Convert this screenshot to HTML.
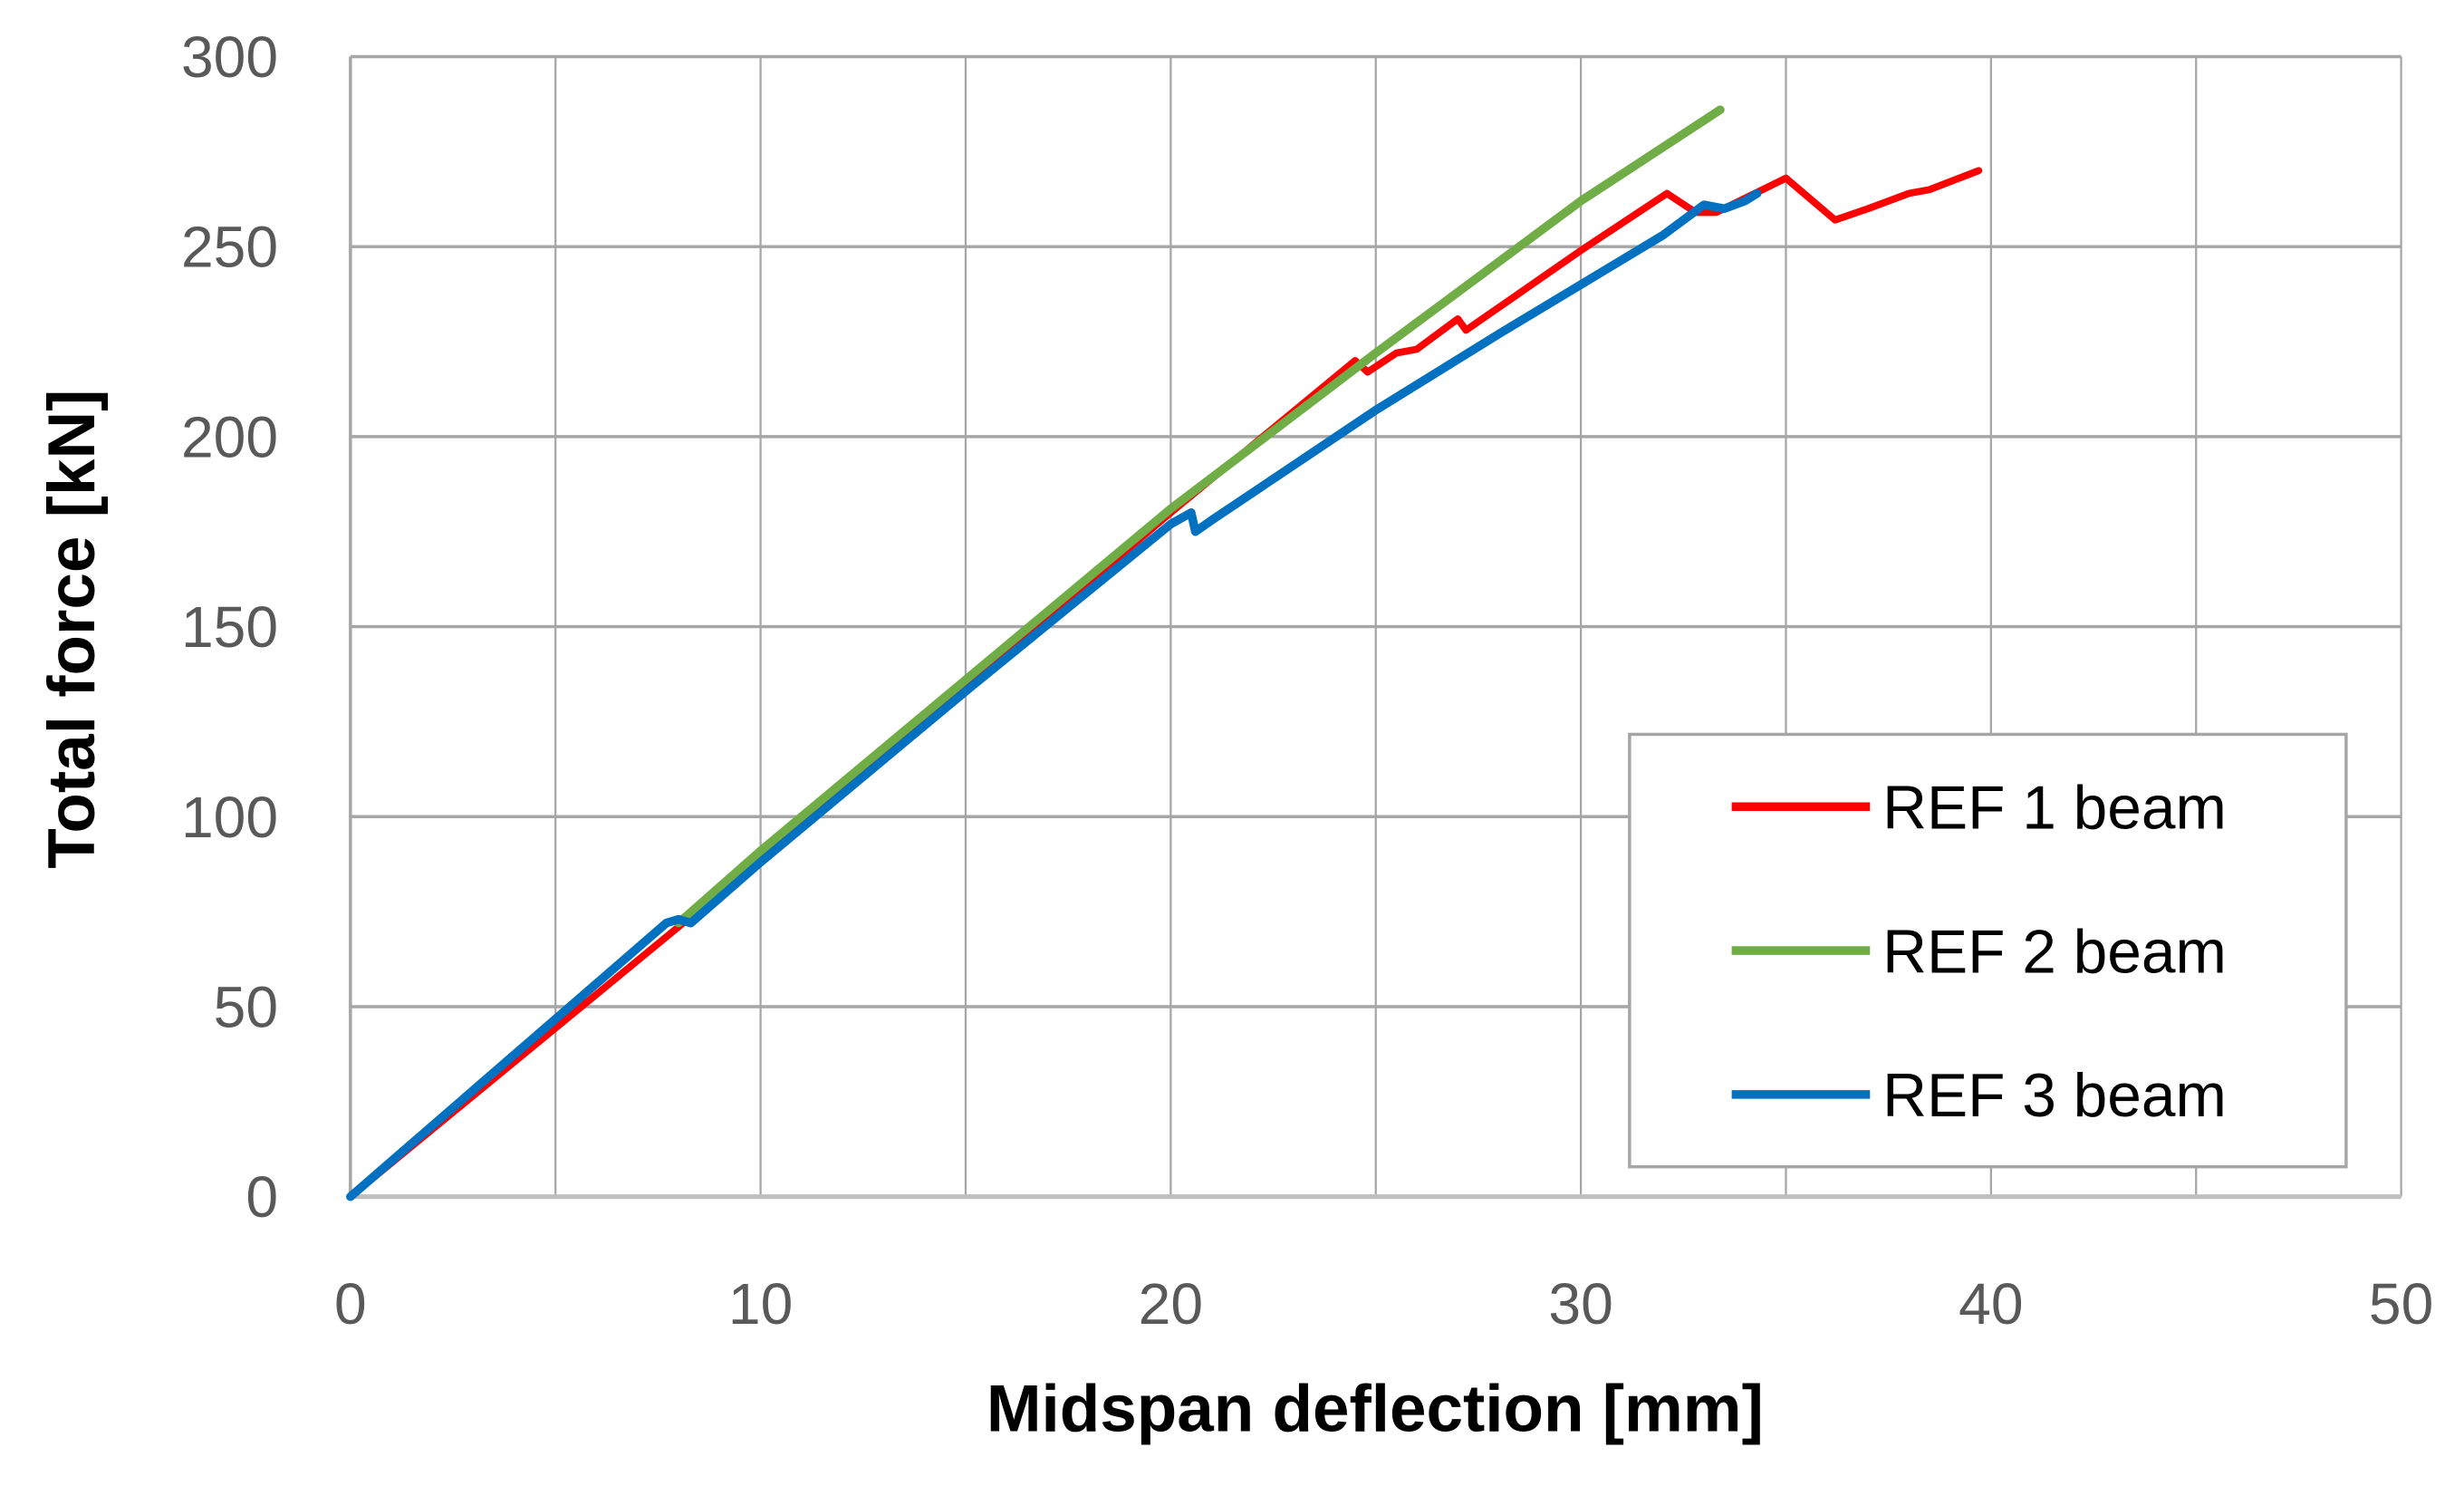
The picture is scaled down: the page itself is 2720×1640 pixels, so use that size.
<!DOCTYPE html>
<html><head><meta charset="utf-8"><style>
html,body{margin:0;padding:0;background:#fff;}
svg{display:block;}
</style></head><body>
<svg width="2720" height="1640" viewBox="0 0 1568 945" preserveAspectRatio="none" xmlns="http://www.w3.org/2000/svg">
<g id="grid"></g>
<g id="series"></g>
<g id="ticks" font-family="'Liberation Sans', sans-serif" font-size="37" fill="#595959"></g>
<text transform="translate(60,400) rotate(-90)" text-anchor="middle" font-family="'Liberation Sans', sans-serif" font-weight="bold" font-size="42" fill="#000">Total force [kN]</text>
<text x="875" y="910" text-anchor="middle" font-family="'Liberation Sans', sans-serif" font-weight="bold" font-size="42" fill="#000">Midspan deflection [mm]</text>
<g>
<rect x="1037" y="467" width="456" height="275" fill="#fff" stroke="#a6a6a6" stroke-width="2"/>
<g id="legend-entries" font-family="'Liberation Sans', sans-serif" font-size="39" fill="#000"></g>
</g>
</svg>
<script>
const xTicks = [0,10,20,30,40,50];
const yTicks = [0,50,100,150,200,250,300];
const seriesNames = ["REF 1 beam","REF 2 beam","REF 3 beam"];
const seriesColors = ["#ff0000","#70ad47","#0070c0"];
const ref1X = [0,8,15,20,24.5,24.8,25.5,26,27,27.2,28,30,32.1,32.8,33.3,35,36.2,37,38,38.5,39.7];
const ref1Y = [0,71,134,180,220,217,222,223,231,228,234,249,264,259,259,268,257,260,264,265,270];
const ref2X = [8,10,15,20,25,30,33.4];
const ref2Y = [72,91,136,181,222,262,286];
const ref3X = [0,7.7,8,8.3,10,15,20,20.5,20.6,21,25,28,30,32,33,33.5,34,34.3];
const ref3Y = [0,72,73,72,88,133,177,180,175,178,207,227,240,253,261,260,262,264];

const NS="http://www.w3.org/2000/svg";
const X0=223,X1=1528,Y0=761,Y1=36;
const sx=v=>X0+(v-0)/(50-0)*(X1-X0);
const sy=v=>Y0-(v-0)/(300-0)*(Y0-Y1);
function mk(tag,attrs,parent){const e=document.createElementNS(NS,tag);for(const k in attrs)e.setAttribute(k,attrs[k]);parent.appendChild(e);return e;}
const grid=document.getElementById('grid');
for(let v=0;v<=50;v+=5){
  const l=mk('line',{x1:sx(v),x2:sx(v),y1:sy(0),y2:sy(300),stroke:'#a6a6a6','stroke-width':v===0?2:1.3},grid);
  
  
}
yTicks.forEach(v=>{
  const l=mk('line',{x1:sx(0),x2:sx(50),y1:sy(v),y2:sy(v),stroke:v===0?'#bfbfbf':'#a6a6a6','stroke-width':v===0?3:2},grid);
  
  
});
const ticks=document.getElementById('ticks');
xTicks.forEach(v=>{
  const t=mk('text',{x:sx(v),y:842,'text-anchor':'middle'},ticks);t.textContent=v;
  
  
});
yTicks.forEach(v=>{
  const t=mk('text',{x:177,y:sy(v)+13,'text-anchor':'end'},ticks);t.textContent=v;
  
  
});
const series=document.getElementById('series');
[[ref1X,ref1Y],[ref2X,ref2Y],[ref3X,ref3Y]].forEach((s,i)=>{
  const d=s[0].map((x,j)=>(j?'L':'M')+sx(x).toFixed(1)+','+sy(s[1][j]).toFixed(1)).join(' ');
  const p=mk('path',{d:d,fill:'none',stroke:seriesColors[i],'stroke-width':i===0?4.5:5.5,'stroke-linejoin':'round','stroke-linecap':'round'},series);
  
  
});
const le=document.getElementById('legend-entries');
seriesNames.forEach((n,i)=>{
  const y=513+i*91.5;
  const l=mk('line',{x1:1102,x2:1190,y1:y,y2:y,stroke:seriesColors[i],'stroke-width':5.5},le);
  
  
  const t=mk('text',{x:1198,y:y+14},le);t.textContent=n;
  
  
});
</script>
</body></html>
